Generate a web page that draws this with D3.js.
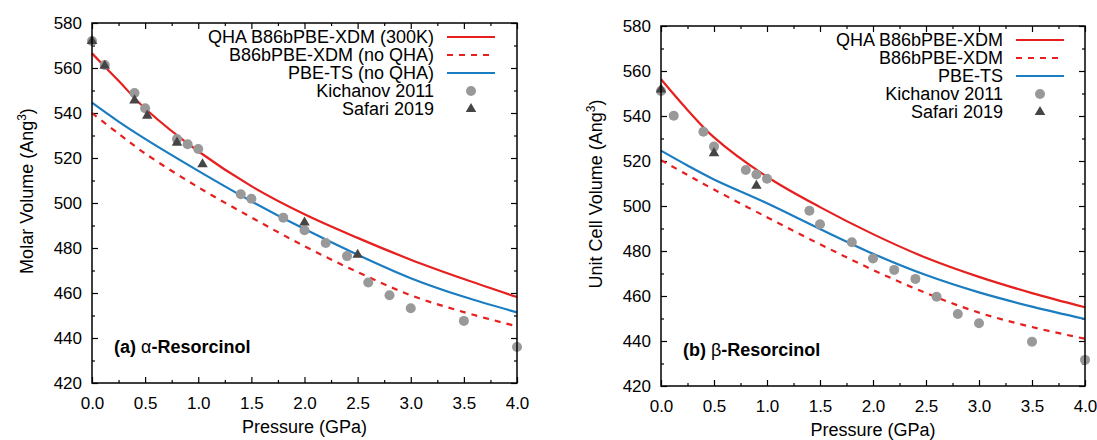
<!DOCTYPE html>
<html>
<head>
<meta charset="utf-8">
<script src="https://cdn.jsdelivr.net/npm/d3@7"></script>
<style>
  body { margin: 0; background: #fff; }
  svg text { font-family: "Liberation Sans", Arial, sans-serif; fill: #000; }
</style>
</head>
<body>
<div id="chart"></div>
<script>
// pressure grid used for the model curves (GPa)
var pressure = [0, 0.25, 0.5, 1, 1.5, 2, 2.5, 3, 3.5, 4];

// alpha-resorcinol, molar volume (Ang^3)
var alphaQHA = [566.5, 554.3, 542, 523, 507.5, 495, 484.5, 474.8, 466.2, 458.2];
var alphaXDM = [540, 530.8, 522, 507, 493.6, 480.8, 469.3, 459, 451.5, 445.2];
var alphaTS  = [544.6, 536.2, 528.5, 514.3, 500.8, 488.4, 477, 466.6, 458.3, 451.4];

var alphaKichP = [0, 0.12, 0.4, 0.5, 0.8, 0.9, 1.0, 1.4, 1.5, 1.8, 2.0, 2.2, 2.4, 2.6, 2.8, 3.0, 3.5, 4.0];
var alphaKichV = [572, 561.3, 548.9, 542.1, 528.4, 526.1, 524, 503.9, 501.9, 493.5, 487.9, 482.2, 476.4, 464.7, 459, 453.2, 447.6, 436];
var alphaSafP = [0, 0.12, 0.4, 0.52, 0.8, 1.04, 2.0, 2.5];
var alphaSafV = [572, 561, 545.6, 538.8, 526.8, 517.2, 491.3, 477];

// beta-resorcinol, unit cell volume (Ang^3)
var betaQHA = [556.3, 542.7, 530.5, 513, 499.5, 487.5, 477, 468.5, 461.3, 455];
var betaXDM = [520.4, 513.8, 507.3, 495, 483, 471.6, 461.3, 452.6, 446.2, 441];
var betaTS  = [524.6, 518, 511.8, 501.2, 489.8, 478.8, 469.3, 461.6, 455.3, 449.8];

var betaKichP = [0, 0.12, 0.4, 0.5, 0.8, 0.9, 1.0, 1.4, 1.5, 1.8, 2.0, 2.2, 2.4, 2.6, 2.8, 3.0, 3.5, 4.0];
var betaKichV = [551.1, 540.1, 533, 526.4, 516, 514, 512.1, 497.9, 491.9, 483.9, 476.7, 471.6, 467.6, 459.7, 452, 447.9, 439.7, 431.6];
var betaSafP = [0, 0.5, 0.9];
var betaSafV = [551.8, 523.5, 509];

var xTicks = [0, 0.5, 1, 1.5, 2, 2.5, 3, 3.5, 4];
var xMinor = [0.25, 0.75, 1.25, 1.75, 2.25, 2.75, 3.25, 3.75];
var yTicks = [420, 440, 460, 480, 500, 520, 540, 560, 580];
var yMinor = [430, 450, 470, 490, 510, 530, 550, 570];

var red = "#e5201f",
	blue = "#1a7cc1";

var width = 1097,
	height = 440;

var svg = d3.select("#chart")
	.append("svg")
	.attr("width", width)
	.attr("height", height);

function zip(xs, ys) {
	return xs.map(function(p, i) { return [p, ys[i]]; });
}

function drawPanel(opt) {
	var g = svg.append("g");

	var x = d3.scaleLinear().domain([0, 4]).range([opt.left, opt.right]);
	var y = d3.scaleLinear().domain([420, 580]).range([opt.bottom, opt.top]);

	// ticks on all four sides, pointing inwards
	function axis(a, scale, values, size, labels, tr) {
		var ax = a(scale).tickValues(values).tickSize(size).tickPadding(8);
		if (labels) ax.tickFormat(labels); else ax.tickFormat("");
		var s = g.append("g").attr("transform", tr).call(ax);
		s.select(".domain").remove();
		s.selectAll("line").attr("stroke", "#000").attr("stroke-width", 1.2);
		s.selectAll("text").attr("font-size", 17).attr("fill", "#000")
			.style("font-family", "'Liberation Sans', Arial, sans-serif");
		return s;
	}

	var xb = axis(d3.axisBottom, x, xTicks, -6, d3.format(".1f"), "translate(0," + opt.bottom + ")");
	xb.selectAll("text").attr("dy", "1.05em");
	axis(d3.axisBottom, x, xMinor, -3, null, "translate(0," + opt.bottom + ")");
	axis(d3.axisTop, x, xTicks, -6, null, "translate(0," + opt.top + ")");
	axis(d3.axisTop, x, xMinor, -3, null, "translate(0," + opt.top + ")");
	var yl = axis(d3.axisLeft, y, yTicks, -6, d3.format("d"), "translate(" + opt.left + ",0)");
	yl.selectAll("text").attr("x", -10);
	axis(d3.axisLeft, y, yMinor, -3, null, "translate(" + opt.left + ",0)");
	axis(d3.axisRight, y, yTicks, -6, null, "translate(" + opt.right + ",0)");
	axis(d3.axisRight, y, yMinor, -3, null, "translate(" + opt.right + ",0)");

	var line = d3.line()
		.x(function(d) { return x(d[0]); })
		.y(function(d) { return y(d[1]); })
		.curve(d3.curveCatmullRom.alpha(0.5));

	var curves = [
		{ v: opt.ts, color: blue, dash: null },
		{ v: opt.xdm, color: red, dash: "6,6" },
		{ v: opt.qha, color: red, dash: null }
	];
	curves.forEach(function(c) {
		g.append("path")
			.attr("d", line(zip(pressure, c.v)))
			.attr("fill", "none")
			.attr("stroke", c.color)
			.attr("stroke-width", 2.2)
			.attr("stroke-dasharray", c.dash);
	});

	g.selectAll(".kich")
		.data(zip(opt.kichP, opt.kichV))
		.enter().append("circle")
		.attr("class", "kich")
		.attr("cx", function(d) { return x(d[0]); })
		.attr("cy", function(d) { return y(d[1]); })
		.attr("r", 5)
		.attr("fill", "#999999");

	var tri = d3.symbol().type(d3.symbolTriangle).size(48);
	g.selectAll(".saf")
		.data(zip(opt.safP, opt.safV))
		.enter().append("path")
		.attr("class", "saf")
		.attr("d", tri)
		.attr("transform", function(d) { return "translate(" + x(d[0]) + "," + y(d[1]) + ")"; })
		.attr("fill", "#454545");

	// frame
	g.append("rect")
		.attr("x", opt.left).attr("y", opt.top)
		.attr("width", opt.right - opt.left).attr("height", opt.bottom - opt.top)
		.attr("fill", "none").attr("stroke", "#000").attr("stroke-width", 1.5);

	// legend
	var leg = g.append("g");
	opt.legend.forEach(function(name, i) {
		var ly = opt.legY + i * 18;
		leg.append("text")
			.attr("x", opt.legX).attr("y", ly)
			.attr("text-anchor", "end").attr("dominant-baseline", "central")
			.attr("font-size", 18)
			.text(name);
		var lx0 = opt.legX + 13, lx1 = opt.legX + 61;
		if (i < 3) {
			var c = [curves[2], curves[1], curves[0]][i];
			leg.append("line")
				.attr("x1", lx0).attr("x2", lx1).attr("y1", ly).attr("y2", ly)
				.attr("stroke", c.color).attr("stroke-width", 2.2)
				.attr("stroke-dasharray", c.dash);
		} else if (i == 3) {
			leg.append("circle").attr("cx", (lx0 + lx1) / 2).attr("cy", ly).attr("r", 5).attr("fill", "#999999");
		} else {
			leg.append("path").attr("d", tri)
				.attr("transform", "translate(" + (lx0 + lx1) / 2 + "," + ly + ")")
				.attr("fill", "#454545");
		}
	});

	// panel label
	var lab = g.append("text")
		.attr("x", opt.left + 22).attr("y", opt.bottom - 30)
		.attr("font-size", 18).attr("font-weight", "bold");
	lab.append("tspan").text(opt.tag + " ");
	lab.append("tspan").attr("font-weight", "normal").text(opt.greek);
	lab.append("tspan").text("-Resorcinol");

	// axis titles
	g.append("text")
		.attr("x", (opt.left + opt.right) / 2).attr("y", opt.bottom + 50)
		.attr("text-anchor", "middle").attr("font-size", 18)
		.text("Pressure (GPa)");

	var yt = g.append("text")
		.attr("transform", "translate(" + (opt.left - 59) + "," + ((opt.top + opt.bottom) / 2 - 12) + ") rotate(-90)")
		.attr("text-anchor", "middle").attr("font-size", 18);
	yt.append("tspan").text(opt.ytitle + " (Ang");
	yt.append("tspan").attr("font-size", 12).attr("dy", -7).text("3");
	yt.append("tspan").attr("dy", 7).text(")");
}

drawPanel({
	left: 92, right: 517, top: 23, bottom: 383,
	qha: alphaQHA, xdm: alphaXDM, ts: alphaTS,
	kichP: alphaKichP, kichV: alphaKichV, safP: alphaSafP, safV: alphaSafV,
	legend: ["QHA B86bPBE-XDM (300K)", "B86bPBE-XDM (no QHA)", "PBE-TS (no QHA)", "Kichanov 2011", "Safari 2019"],
	legX: 434, legY: 37,
	tag: "(a)", greek: "\u03b1",
	ytitle: "Molar Volume"
});

drawPanel({
	left: 661, right: 1085, top: 26, bottom: 386,
	qha: betaQHA, xdm: betaXDM, ts: betaTS,
	kichP: betaKichP, kichV: betaKichV, safP: betaSafP, safV: betaSafV,
	legend: ["QHA B86bPBE-XDM", "B86bPBE-XDM", "PBE-TS", "Kichanov 2011", "Safari 2019"],
	legX: 1003, legY: 40,
	tag: "(b)", greek: "\u03b2",
	ytitle: "Unit Cell Volume"
});
</script>
</body>
</html>
